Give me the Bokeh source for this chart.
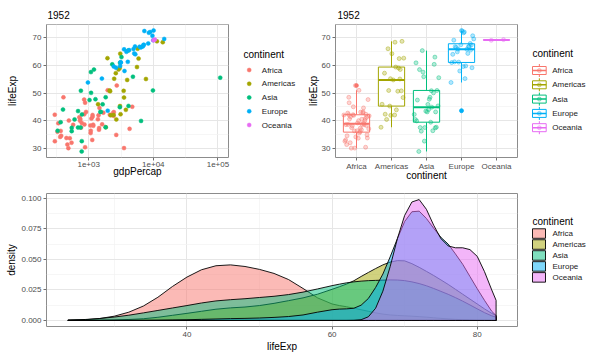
import json
import numpy as np
from bokeh.plotting import figure
from bokeh.models import Range1d, FixedTicker, CustomJSTickFormatter, PrintfTickFormatter
from bokeh.core.properties import value
from bokeh.layouts import column, row
from bokeh.embed import file_html
from bokeh.resources import INLINE

# ---------------- data ----------------
continents = ["Africa", "Americas", "Asia", "Europe", "Oceania"]
colors = ["#F8766D", "#A3A500", "#00BF7D", "#00B0F6", "#E76BF3"]
year_title = "1952"

# gapminder 1952: gdpPercap / lifeExp per continent
gdp_africa = [2449.008, 3520.610, 1062.752, 851.241, 543.255, 339.296, 1172.668, 1071.311, 1178.666, 1102.991,
              780.542, 2125.622, 1388.595, 2669.530, 1418.822, 375.643, 328.941, 362.146, 4293.476, 485.231,
              911.299, 510.196, 299.850, 853.541, 298.846, 575.572, 2387.548, 1443.012, 369.165, 452.336,
              743.116, 1967.956, 1688.204, 468.526, 2423.780, 761.879, 1077.282, 2718.885, 493.324, 879.584,
              1450.357, 879.788, 1135.750, 4725.296, 1615.991, 1148.377, 716.650, 859.809, 1468.475, 734.753,
              1147.389, 406.884]
life_africa = [43.077, 30.015, 38.223, 47.622, 31.975, 39.031, 38.523, 35.463, 38.092, 40.715,
               39.143, 42.111, 40.477, 34.812, 41.893, 34.482, 35.928, 34.078, 37.003, 30.000,
               43.149, 33.609, 32.500, 42.270, 42.138, 38.480, 42.723, 36.681, 36.256, 33.685,
               40.543, 50.986, 42.873, 31.286, 41.725, 37.444, 36.324, 52.724, 40.000, 46.471,
               37.278, 30.331, 32.978, 45.009, 38.635, 41.407, 41.215, 38.596, 44.600, 39.978,
               42.038, 48.451]
gdp_americas = [5911.315, 2677.326, 2108.944, 11367.161, 3939.979, 2144.115, 2627.009, 5586.539, 1397.717,
                3522.111, 3048.303, 2428.238, 1840.367, 2194.926, 2898.531, 3478.126, 3112.364, 2480.380,
                1952.309, 3758.523, 3081.960, 3023.272, 13990.482, 5716.767, 7689.800]
life_americas = [62.485, 40.414, 50.917, 68.750, 54.745, 50.643, 57.206, 59.421, 45.928,
                 48.357, 45.262, 42.023, 37.579, 41.912, 58.530, 50.789, 42.314, 55.191,
                 62.649, 43.902, 64.280, 59.100, 68.440, 66.071, 55.088]
gdp_asia = [779.445, 9867.085, 684.244, 368.469, 400.448, 3054.421, 546.566, 749.682, 3035.326, 4129.766,
            4086.522, 3216.956, 1546.908, 1088.278, 1030.592, 108382.353, 4834.804, 1831.133, 786.567, 331.000,
            545.866, 1828.230, 684.597, 1272.880, 6459.555, 2315.138, 1083.532, 1643.485, 1206.947, 757.797,
            605.067, 1515.592, 781.718]
life_asia = [28.801, 50.939, 37.484, 39.417, 44.000, 60.960, 37.373, 37.468, 44.869, 45.320,
             65.390, 63.030, 43.158, 50.056, 47.453, 55.565, 55.928, 48.463, 42.244, 36.319,
             36.157, 37.578, 43.436, 47.752, 39.875, 60.396, 57.593, 45.883, 58.500, 50.848,
             40.412, 43.160, 32.548]
gdp_europe = [1601.056, 6137.076, 8343.105, 973.533, 2444.287, 3119.237, 6876.141, 9692.385, 6424.519,
              7029.809, 7144.114, 3530.690, 5263.674, 7267.688, 5210.280, 4931.404, 2647.586, 8941.572,
              10095.422, 4029.330, 3068.320, 3144.613, 3581.459, 5074.659, 4215.042, 3834.035, 8527.845,
              14734.233, 1969.101, 9979.508]
life_europe = [55.230, 66.800, 68.000, 53.820, 59.600, 61.210, 66.870, 70.780, 66.550,
               67.410, 67.500, 65.860, 64.030, 72.490, 66.910, 65.940, 59.164, 72.130,
               72.670, 61.310, 59.820, 61.050, 57.996, 64.360, 65.570, 64.940, 71.860,
               69.620, 43.585, 69.180]
gdp_oceania = [10039.596, 10556.576]
life_oceania = [69.120, 69.390]

# horizontal jitter offsets
jit_africa = [0.12, -0.05, 0.28, 0.33, -0.18, 0.21, -0.30, 0.08, -0.12, 0.25, 0.03, -0.22, 0.15, 0.30,
              -0.08, -0.27, 0.10, -0.02, 0.35, -0.15, 0.19, 0.05, -0.33, 0.27, -0.10, 0.22, -0.25, 0.14,
              -0.06, 0.31, -0.20, 0.07, 0.18, -0.28, 0.36, -0.14, 0.02, -0.03, 0.24, -0.21, 0.11, 0.26,
              -0.31, -0.09, 0.16, -0.17, 0.29, -0.24, 0.20, 0.06, -0.36, -0.22]
jit_americas = [0.22, -0.14, -0.08, 0.30, 0.05, 0.18, -0.20, 0.12, -0.27, 0.33, -0.05, 0.09, -0.30,
                -0.02, 0.25, 0.28, -0.18, -0.03, 0.35, 0.14, 0.01, 0.20, 0.10, -0.10, 0.24]
jit_asia = [-0.22, 0.30, -0.18, 0.12, 0.06, -0.30, 0.25, -0.05, 0.15, 0.33, -0.12, 0.24, 0.02, 0.20,
            -0.26, 0.35, -0.08, 0.10, -0.35, 0.18, -0.15, 0.28, -0.02, 0.08, -0.28, 0.22, -0.10, 0.04,
            -0.20, 0.14, -0.32, 0.26, -0.06]
jit_europe = [0.10, -0.18, 0.25, -0.30, 0.05, -0.08, 0.20, 0.32, -0.15, 0.28, -0.02, 0.15, -0.25, 0.02,
              0.22, -0.10, 0.30, 0.08, 0.00, -0.20, 0.12, -0.28, -0.05, 0.18, 0.26, -0.12, 0.06, 0.35,
              0.00, -0.22]
jit_oceania = [-0.15, 0.20]

# density curves (all years)
dens_x = [23.6, 26, 28, 30, 32, 34, 36, 38, 40, 42, 44, 46, 48, 50, 52, 54, 56, 58, 60, 61, 62, 63, 64,
          65, 66, 67, 68, 69, 70, 71, 72, 73, 74, 75, 76, 77, 78, 79, 80, 81, 82, 82.6]
dens_africa = [0.0002, 0.0006, 0.0016, 0.0035, 0.0068, 0.0118, 0.019, 0.0278, 0.0355, 0.0415, 0.0448,
               0.0455, 0.0442, 0.0418, 0.0385, 0.0335, 0.0262, 0.0185, 0.0135, 0.0122, 0.0112, 0.0100,
               0.0088, 0.0075, 0.0062, 0.0052, 0.0045, 0.0041, 0.0038, 0.0035, 0.0031, 0.0027, 0.0022,
               0.0017, 0.0013, 0.0009, 0.0006, 0.0004, 0.0002, 0.0001, 0.00005, 0.00003]
dens_americas = [0.00002, 0.0001, 0.0002, 0.0004, 0.0008, 0.0014, 0.0026, 0.0042, 0.0058, 0.0075, 0.0092,
                 0.0103, 0.011, 0.0122, 0.014, 0.0162, 0.0185, 0.0215, 0.0255, 0.0276, 0.0298, 0.0325,
                 0.036, 0.0393, 0.0425, 0.0455, 0.0478, 0.049, 0.0488, 0.0465, 0.0435, 0.0402, 0.0368,
                 0.0332, 0.0295, 0.0255, 0.0215, 0.0175, 0.0135, 0.0095, 0.0058, 0.004]
dens_asia = [0.0003, 0.0008, 0.0016, 0.0028, 0.0043, 0.0062, 0.0082, 0.0102, 0.0122, 0.0143, 0.016,
             0.017, 0.0178, 0.0188, 0.0198, 0.0212, 0.0232, 0.0258, 0.0285, 0.0297, 0.0308, 0.0316,
             0.0322, 0.0326, 0.0328, 0.033, 0.0332, 0.0331, 0.0326, 0.0316, 0.0302, 0.0284, 0.0262,
             0.0238, 0.0214, 0.0187, 0.0158, 0.0127, 0.0095, 0.0064, 0.0038, 0.0027]
dens_europe = [0.0, 0.0, 0.00001, 0.00003, 0.00006, 0.0001, 0.0002, 0.0004, 0.0006, 0.0009, 0.0012,
               0.0015, 0.0017, 0.002, 0.0025, 0.0032, 0.0045, 0.0068, 0.0088, 0.0093, 0.0095, 0.0100,
               0.0125, 0.018, 0.027, 0.038, 0.052, 0.067, 0.081, 0.089, 0.0895, 0.0835, 0.0755,
               0.068, 0.0625, 0.0545, 0.046, 0.036, 0.026, 0.0165, 0.0075, 0.004]
dens_oceania = [0.0, 0.0, 0.0, 0.0, 0.0, 0.0, 0.0, 0.0, 0.0, 0.0, 0.0,
                0.0, 0.0, 0.0, 0.0, 0.0, 0.0, 0.0, 0.0, 0.0, 0.0, 0.0001,
                0.0006, 0.003, 0.01, 0.024, 0.044, 0.067, 0.086, 0.097, 0.099, 0.091, 0.078,
                0.067, 0.061, 0.0595, 0.0595, 0.058, 0.0525, 0.040, 0.025, 0.0165]

life_ticks = [30, 40, 50, 60, 70]
gdp_ticks = [1e3, 1e4, 1e5]
dens_xticks = [40, 60, 80]
dens_yticks = [0.0, 0.025, 0.05, 0.075, 0.1]

gdp_all = [gdp_africa, gdp_americas, gdp_asia, gdp_europe, gdp_oceania]
life_all = [life_africa, life_americas, life_asia, life_europe, life_oceania]
jit_all = [jit_africa, jit_americas, jit_asia, jit_europe, jit_oceania]
dens_all = [dens_africa, dens_americas, dens_asia, dens_europe, dens_oceania]

FONT = "Liberation Sans"


def style(p):
    p.background_fill_color = "white"
    p.border_fill_color = "white"
    p.outline_line_color = "#8C8C8C"
    p.outline_line_width = 1
    for ax in p.axis:
        ax.axis_line_color = None
        ax.major_tick_line_color = "#6E6E6E"
        ax.major_tick_out = 3
        ax.major_tick_in = 0
        ax.minor_tick_out = 0
        ax.minor_tick_in = 0
        ax.major_label_text_font = FONT
        ax.major_label_text_font_size = "8px"
        ax.major_label_text_color = "#4D4D4D"
        ax.axis_label_text_font = FONT
        ax.axis_label_text_font_size = "10px"
        ax.axis_label_text_font_style = "normal"
        ax.axis_label_text_color = "black"
        ax.major_label_standoff = 2
        ax.axis_label_standoff = 1
    for g in p.grid:
        g.grid_line_color = "#E6E6E6"
        g.grid_line_width = 1
        g.minor_grid_line_color = "#F2F2F2"
        g.minor_grid_line_width = 0.7


def blank_fig(width, height, x0=0, x1=None):
    f = figure(width=width, height=height, x_range=Range1d(x0, width if x1 is None else x1),
               y_range=Range1d(height, 0),
               output_backend="svg", toolbar_location=None, min_border=0,
               min_border_left=0, min_border_right=0, min_border_top=0, min_border_bottom=0,
               x_axis_location=None, y_axis_location=None)
    f.outline_line_color = None
    f.grid.visible = False
    f.background_fill_color = "white"
    f.border_fill_color = "white"
    return f


def legend_texts(f, tx, ty, lx, ys):
    f.text(x=[tx], y=[ty], text=["continent"], text_font=value(FONT), text_font_size="10px",
           text_color="black", text_baseline="middle", text_align="left")
    f.text(x=[lx] * len(ys), y=ys, text=continents, text_font=value(FONT), text_font_size="8px",
           text_color="#1A1A1A", text_baseline="middle", text_align="left")


def header(width, frame_left, frame_right, tx):
    # header frame is aligned with the plot frame below it, so use matching pixel coordinates
    f = blank_fig(width, 23, frame_left, frame_right)
    f.text(x=[tx], y=[14], text=[year_title], text_font=value(FONT), text_font_size="10px",
           text_color="black", text_baseline="middle", text_align="left")
    return f


def log_range(vals):
    lo, hi = np.log10(min(vals)), np.log10(max(vals))
    pad = 0.05 * (hi - lo)
    return 10 ** (lo - pad), 10 ** (hi + pad)


def lin_range(lo, hi):
    pad = 0.05 * (hi - lo)
    return lo - pad, hi + pad


all_gdp = sum(gdp_all, [])
all_life = sum(life_all, [])
ylo, yhi = lin_range(min(all_life), max(all_life))

# ---------------- panel 1: scatter ----------------
xlo, xhi = log_range(all_gdp)
p1 = figure(width=230, height=161, x_axis_type="log", x_range=Range1d(xlo, xhi),
            y_range=Range1d(ylo, yhi), output_backend="svg", toolbar_location=None,
            min_border_left=46, min_border_right=2, min_border_top=1, min_border_bottom=27,
            x_axis_label="gdpPercap", y_axis_label="lifeExp")
style(p1)
tk = FixedTicker(ticks=gdp_ticks, minor_ticks=[10 ** 2.5, 10 ** 3.5, 10 ** 4.5])
p1.xaxis.ticker = tk
p1.xgrid.ticker = tk
p1.xaxis.formatter = CustomJSTickFormatter(
    code="const e = Math.round(Math.log10(tick)); return '1e+' + (e < 10 ? '0' : '') + e;")
p1.xaxis.major_label_standoff = 1
p1.xaxis.axis_label_standoff = -4
tky = FixedTicker(ticks=life_ticks, minor_ticks=[25, 35, 45, 55, 65, 75])
p1.yaxis.ticker = tky
p1.ygrid.ticker = tky
p1.yaxis.axis_label_standoff = 12

for col, g, l in zip(colors, gdp_all, life_all):
    p1.scatter(g, l, size=4, fill_color=col, line_color=col, line_width=0.5)

H1 = header(230, 46, 228, 47)
L1 = blank_fig(70, 184)
ys1 = [69.5 + 13.75 * i for i in range(5)]
L1.scatter(x=[18.7] * 5, y=ys1, size=4, fill_color=colors, line_color=colors, line_width=0.5)
legend_texts(L1, 13, 54, 31.3, ys1)

# ---------------- panel 2: boxplot + jitter ----------------
p2 = figure(width=219, height=161, x_range=Range1d(0.4, 5.6), y_range=Range1d(ylo, yhi),
            output_backend="svg", toolbar_location=None,
            min_border_left=35, min_border_right=2, min_border_top=1, min_border_bottom=27,
            x_axis_label="continent", y_axis_label="lifeExp")
style(p2)
tkx2 = FixedTicker(ticks=[1, 2, 3, 4, 5], minor_ticks=[])
p2.xaxis.ticker = tkx2
p2.xgrid.ticker = tkx2
p2.xaxis.formatter = CustomJSTickFormatter(
    code="const n = %s; const i = Math.round(tick) - 1; return (i >= 0 && i < n.length) ? n[i] : '';"
    % json.dumps(continents))
p2.xaxis.major_label_standoff = 1
p2.xaxis.axis_label_standoff = -4
p2.yaxis.ticker = tky
p2.ygrid.ticker = tky
p2.yaxis.axis_label_standoff = 0

hw = 0.375
for i, (col, l) in enumerate(zip(colors, life_all)):
    xc = i + 1
    v = np.asarray(l)
    q1, med, q3 = np.percentile(v, [25, 50, 75])
    iqr = q3 - q1
    lo_f, hi_f = q1 - 1.5 * iqr, q3 + 1.5 * iqr
    inside = v[(v >= lo_f) & (v <= hi_f)]
    outl = v[(v < lo_f) | (v > hi_f)]
    p2.segment([xc, xc], [q3, q1], [xc, xc], [inside.max(), inside.min()], line_color=col, line_width=1)
    p2.quad(left=[xc - hw], right=[xc + hw], bottom=[q1], top=[q3], fill_color="white",
            line_color=col, line_width=1)
    p2.segment([xc - hw], [med], [xc + hw], [med], line_color=col, line_width=2)
    if len(outl):
        p2.scatter([xc] * len(outl), list(outl), size=4, fill_color=col, line_color=col, line_width=0.5)

for i, (col, l, j) in enumerate(zip(colors, life_all, jit_all)):
    xs = [i + 1 + d for d in j]
    p2.scatter(xs, l, size=4, fill_color=col, fill_alpha=0.3, line_color=col,
               line_alpha=0.5, line_width=0.8)

H2 = header(219, 335, 517, 337)
L2 = blank_fig(81, 184)
ys2 = [70 + 14.3 * i for i in range(5)]
kx0, kx1 = 13, 26.7
kxc = (kx0 + kx1) / 2
for col, y in zip(colors, ys2):
    L2.segment([kxc], [y - 6.5], [kxc], [y + 6.5], line_color=col, line_width=1)
    L2.quad(left=[kx0], right=[kx1], top=[y - 4], bottom=[y + 4], fill_color="white",
            line_color=col, line_width=1)
    L2.segment([kx0], [y], [kx1], [y], line_color=col, line_width=1.5)
    L2.scatter([kxc], [y], size=4, fill_color=col, fill_alpha=0.3, line_color=col,
               line_alpha=0.5, line_width=0.8)
legend_texts(L2, 13, 53, 32.7, ys2)

# ---------------- panel 3: densities ----------------
dmax = max(max(d) for d in dens_all)
dxlo, dxhi = lin_range(min(dens_x), max(dens_x))
dylo, dyhi = lin_range(0.0, dmax)
p3 = figure(width=519, height=176, x_range=Range1d(dxlo, dxhi), y_range=Range1d(dylo, dyhi),
            output_backend="svg", toolbar_location=None,
            min_border_left=46, min_border_right=2, min_border_top=9, min_border_bottom=34,
            x_axis_label="lifeExp", y_axis_label="density")
style(p3)
tkx3 = FixedTicker(ticks=dens_xticks, minor_ticks=[30, 50, 70])
p3.xaxis.ticker = tkx3
p3.xgrid.ticker = tkx3
tky3 = FixedTicker(ticks=dens_yticks, minor_ticks=[0.0125, 0.0375, 0.0625, 0.0875])
p3.yaxis.ticker = tky3
p3.ygrid.ticker = tky3
p3.yaxis.formatter = PrintfTickFormatter(format="%.3f")
p3.yaxis.axis_label_standoff = 1

for col, d in zip(colors, dens_all):
    px = list(dens_x) + list(dens_x[::-1])
    py = list(d) + [0.0] * len(d)
    p3.patch(px, py, fill_color=col, fill_alpha=0.5, line_color="black", line_width=0.9)

L3 = blank_fig(81, 176)
ys3 = [53 + 14.5 * i for i in range(5)]
L3.quad(left=[13] * 5, right=[26] * 5, top=[y - 6.3 for y in ys3], bottom=[y + 6.3 for y in ys3],
        fill_color=colors, fill_alpha=0.5, line_color="black", line_width=0.9)
legend_texts(L3, 13, 37, 33, ys3)

layout = column(row(column(H1, p1), L1, column(H2, p2), L2), row(p3, L3))
open("out.html", "w").write(file_html(layout, INLINE))
